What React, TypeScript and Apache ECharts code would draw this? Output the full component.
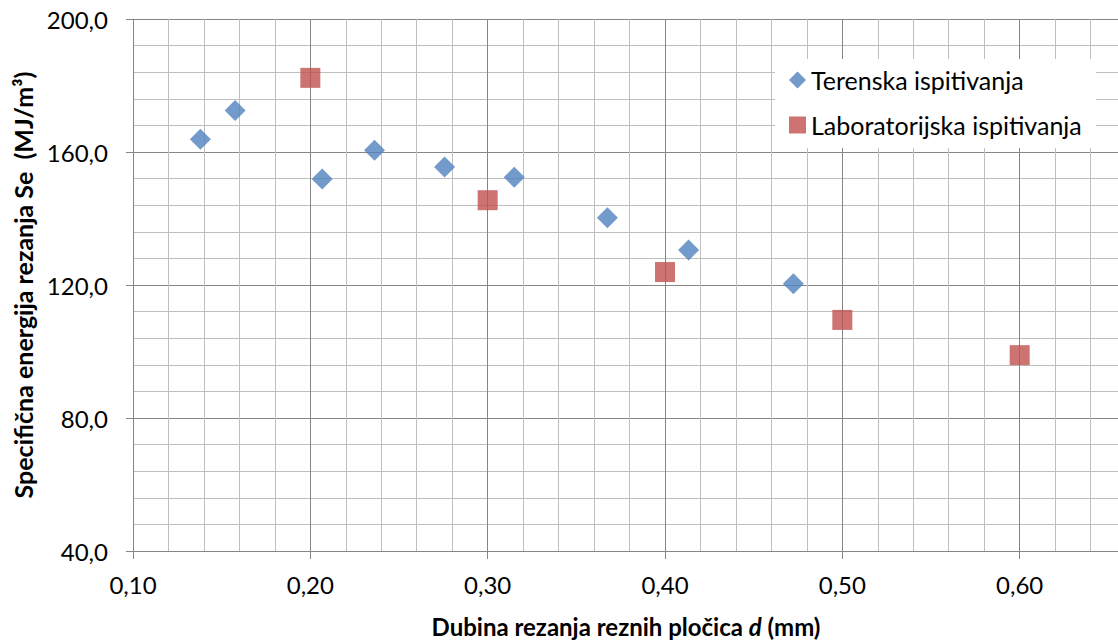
import React, { useEffect, useRef } from "react";
import * as echarts from "echarts";

const terenskaX = [0.138, 0.1576, 0.2067, 0.2362, 0.2757, 0.315, 0.3675, 0.4133, 0.4724];
const terenskaY = [163.8, 172.5, 151.9, 160.5, 155.5, 152.4, 140.2, 130.5, 120.4];
const labX = [0.2, 0.3, 0.4, 0.5, 0.6];
const labY = [182.3, 145.5, 123.9, 109.5, 98.9];
const seriesNames = ["Terenska ispitivanja", "Laboratorijska ispitivanja"];
const yTitle = "Specifična energija rezanja Se  (MJ/m³)";
const xTitleParts = ["Dubina rezanja reznih pločica ", "d", " (mm)"];
const xLastShownTick = 0.6;

const FONT = "Lato";

export default function App() {
  const ref = useRef<HTMLDivElement>(null);
  useEffect(() => {
    if (!ref.current) return;
    const chart = echarts.init(ref.current, undefined, { renderer: "svg" });
    const major = "#868686";
    const minor = "#bfbfbf";
    chart.setOption({
      animation: false,
      backgroundColor: "#ffffff",
      textStyle: { fontFamily: FONT },
      grid: {
        left: 133,
        top: 19,
        width: 1064,
        bottom: 90,
        containLabel: false,
        outerBoundsMode: "none",
      },
      xAxis: {
        type: "value",
        min: 0.1,
        max: 0.7,
        interval: 0.1,
        axisLine: { show: true, lineStyle: { color: major, width: 1 } },
        axisTick: { show: true, length: 8, lineStyle: { color: major } },
        minorTick: { show: false, splitNumber: 5 },
        splitLine: { show: true, lineStyle: { color: major, width: 1 } },
        minorSplitLine: { show: true, lineStyle: { color: minor, width: 1 } },
        axisLabel: {
          color: "#000",
          fontSize: 24,
          fontFamily: FONT,
          margin: 21,
          formatter: (v: number) =>
            v > xLastShownTick + 1e-6 ? "" : v.toFixed(2).replace(".", ","),
        },
      },
      yAxis: {
        type: "value",
        min: 40,
        max: 200,
        interval: 40,
        name: yTitle,
        nameLocation: "middle",
        nameGap: 94,
        nameRotate: 90,
        nameTextStyle: { color: "#000", fontSize: 25, fontWeight: "bold", fontFamily: FONT },
        axisLine: { show: true, lineStyle: { color: major, width: 1 } },
        axisTick: { show: true, length: 7, lineStyle: { color: major } },
        minorTick: { show: false, splitNumber: 5 },
        splitLine: { show: true, lineStyle: { color: major, width: 1 } },
        minorSplitLine: { show: true, lineStyle: { color: minor, width: 1 } },
        axisLabel: {
          color: "#000",
          fontSize: 24,
          fontFamily: FONT,
          margin: 25,
          formatter: (v: number) => v.toFixed(1).replace(".", ","),
        },
      },
      legend: {
        orient: "vertical",
        left: 775,
        top: 59,
        backgroundColor: "#ffffff",
        padding: [7, 14, 9, 14],
        itemGap: 17,
        itemWidth: 17,
        itemHeight: 17,
        textStyle: { fontSize: 25, color: "#000", fontFamily: FONT, lineHeight: 28 },
        data: [
          { name: seriesNames[0], icon: "diamond" },
          { name: seriesNames[1], icon: "rect" },
        ],
      },
      graphic: [
        {
          type: "text",
          x: 626,
          y: 626,
          style: {
            text: `{b|${xTitleParts[0]}}{i|${xTitleParts[1]}}{b|${xTitleParts[2]}}`,
            align: "center",
            verticalAlign: "middle",
            rich: {
              b: { fontSize: 24, fontWeight: "bold", fontFamily: FONT, fill: "#000" },
              i: { fontSize: 24, fontWeight: "bold", fontStyle: "italic", fontFamily: FONT, fill: "#000" },
            },
          },
        },
      ],
      series: [
        {
          name: seriesNames[0],
          type: "scatter",
          symbol: "diamond",
          symbolSize: 21,
          itemStyle: { color: "#4f81bd" },
          data: terenskaX.map((x, i) => [x, terenskaY[i]]),
        },
        {
          name: seriesNames[1],
          type: "scatter",
          symbol: "rect",
          symbolSize: 20,
          itemStyle: { color: "#c0504d" },
          data: labX.map((x, i) => [x, labY[i]]),
        },
      ],
    });
    return () => chart.dispose();
  }, []);
  return (
    <div
      ref={ref}
      style={{ position: "fixed", left: 0, top: 0, width: 1118, height: 641, background: "#fff" }}
    />
  );
}
